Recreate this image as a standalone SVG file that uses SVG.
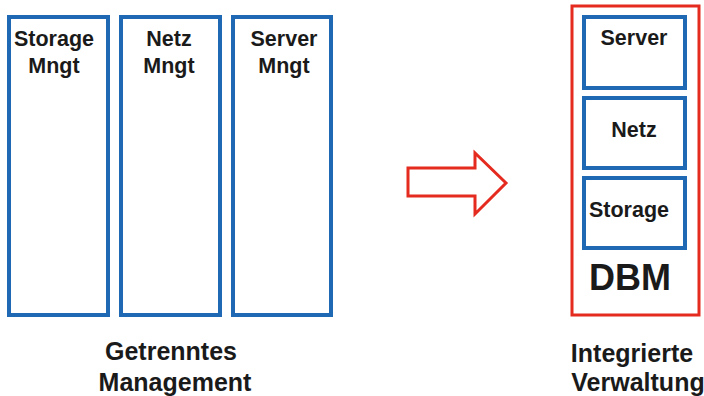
<svg xmlns="http://www.w3.org/2000/svg" width="704" height="396" viewBox="0 0 704 396">
<style>
.b{fill:#fff;stroke:#1f68b3;stroke-width:4}
.r{fill:none;stroke:#e52b1f;stroke-width:3}
text{font-family:"Liberation Sans",Arial,sans-serif;font-weight:bold;fill:#1a1a1a;text-anchor:middle}
.t{font-size:21.5px}
.l{font-size:25px}
</style>
<rect width="704" height="396" fill="#fff"/>
<g id="storage-mngt"><rect class="b" x="9" y="17" width="99" height="298"/><text class="t" x="54" y="46">Storage</text><text class="t" x="54" y="73">Mngt</text></g>
<g id="netz-mngt"><rect class="b" x="121" y="17" width="99" height="298"/><text class="t" x="169" y="46">Netz</text><text class="t" x="169" y="73">Mngt</text></g>
<g id="server-mngt"><rect class="b" x="233" y="17" width="98" height="298"/><text class="t" x="284" y="46">Server</text><text class="t" x="284" y="73">Mngt</text></g>
<text class="l" x="171" y="360">Getrenntes</text>
<text class="l" x="175" y="391">Management</text>
<g id="connectors"><path class="r" d="M408,168 H475 V153 L506,183 L475,214 V196 H408 Z"/></g>
<g id="dbm"><rect class="r" x="572" y="6" width="127" height="309"/><text x="630" y="290" font-size="36px" fill="#000">DBM</text></g>
<g id="server"><rect class="b" x="584" y="17" width="101" height="71"/><text class="t" x="634" y="45">Server</text></g>
<g id="netz"><rect class="b" x="584" y="98" width="101" height="70"/><text class="t" x="634" y="137">Netz</text></g>
<g id="storage"><rect class="b" x="584" y="178" width="101" height="70"/><text class="t" x="629" y="217">Storage</text></g>
<text class="l" x="632" y="362">Integrierte</text>
<text class="l" x="638" y="391">Verwaltung</text>
</svg>
